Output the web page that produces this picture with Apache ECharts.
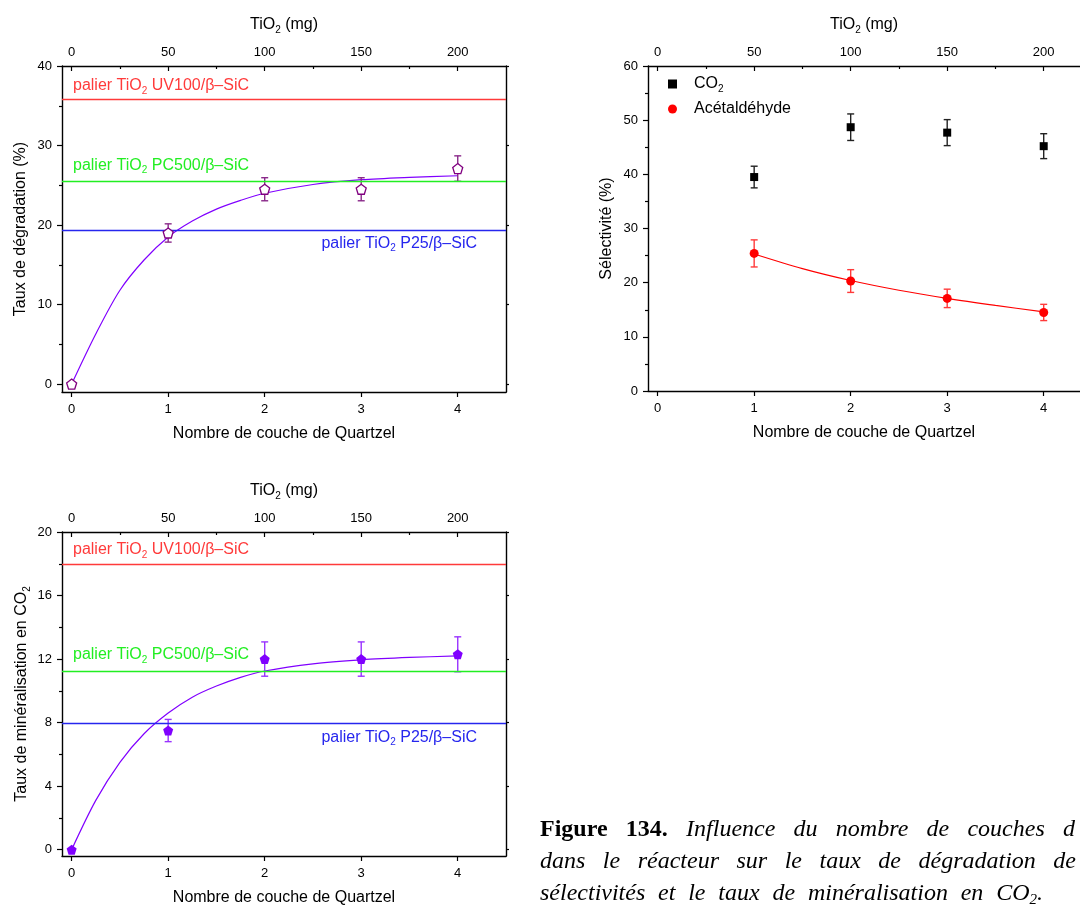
<!DOCTYPE html>
<html><head><meta charset="utf-8">
<script src="https://cdn.jsdelivr.net/npm/echarts@6/dist/echarts.min.js"></script>
<style>html,body{margin:0;padding:0;background:#fff}#c{width:1080px;height:907px}</style>
</head><body><div id="c"></div><script>
// ---------- data ----------
const layerTicks = [0, 1, 2, 3, 4];
const tio2Ticks = [0, 50, 100, 150, 200];
const tio2Minor = [25, 75, 125, 175];

// chart 1 : Taux de dégradation
const degX = [0, 1, 2, 3, 4];
const degValues = [0, 19.0, 24.5, 24.5, 27.1];
const degErrors = [0, 1.15, 1.45, 1.45, 1.6];
const degFitX = [0, 0.25, 0.5, 0.75, 1, 1.25, 1.5, 1.75, 2, 2.5, 3, 3.5, 4];
const degFitY = [0, 6.3, 11.8, 15.6, 18.5, 20.5, 22.0, 23.1, 24.0, 25.1, 25.7, 26.0, 26.2];
const degPaliers = [35.85, 25.5, 19.35];
const degTicks = [0, 10, 20, 30, 40];
const degMinor = [5, 15, 25, 35];

// chart 2 : Sélectivité
const selX = [1, 2, 3, 4];
const selCO2 = [39.5, 48.7, 47.7, 45.2];
const selCO2Err = [2.0, 2.45, 2.4, 2.3];
const selAce = [25.4, 20.3, 17.1, 14.5];
const selAceErr = [2.5, 2.1, 1.7, 1.5];
const aceFitX = [1, 1.5, 2, 2.5, 3, 3.5, 4];
const aceFitY = [25.3, 22.6, 20.4, 18.6, 17.1, 15.8, 14.6];
const selTicks = [0, 10, 20, 30, 40, 50, 60];
const selMinor = [5, 15, 25, 35, 45, 55];

// chart 3 : Taux de minéralisation
const minX = [0, 1, 2, 3, 4];
const minValues = [0, 7.5, 12.0, 12.0, 12.3];
const minErrors = [0, 0.7, 1.08, 1.08, 1.1];
const minFitX = [0, 0.25, 0.5, 0.75, 1, 1.25, 1.5, 1.75, 2, 2.5, 3, 3.5, 4];
const minFitY = [0, 3.1, 5.5, 7.3, 8.6, 9.6, 10.3, 10.85, 11.25, 11.7, 11.95, 12.1, 12.2];
const minPaliers = [18.0, 11.25, 7.93];
const minTicks = [0, 4, 8, 12, 16, 20];
const minMinor = [2, 6, 10, 14, 18];

const paliersNames = ['palier TiO_2 UV100/β–SiC', 'palier TiO_2 PC500/β–SiC', 'palier TiO_2 P25/β–SiC'];
const paliersColors = ['#ff3a3a', '#22ee22', '#2626ee'];

const captionLines = [
  ['Figure', '134.', 'Influence', 'du', 'nombre', 'de', 'couches', 'd'],
  ['dans', 'le', 'réacteur', 'sur', 'le', 'taux', 'de', 'dégradation', 'de'],
  ['sélectivités', 'et', 'le', 'taux', 'de', 'minéralisation', 'en', 'CO_2.']
];

// ---------- helpers ----------
const FONT = '"Liberation Sans", Arial, sans-serif';
const SERIF = '"Liberation Serif", "Times New Roman", serif';
function rt(str) {
  return str.split(/(_\d)/).filter(s => s).map(s => s[0] === '_' ? '{s|' + s.slice(1) + '}' : '{n|' + s + '}').join('');
}
function richStyles(size, color) {
  return {
    n: { fontSize: size, lineHeight: 20, verticalAlign: 'middle', fontFamily: FONT, color: color },
    s: { fontSize: Math.round(size * 0.62), lineHeight: 6, verticalAlign: 'bottom', fontFamily: FONT, color: color }
  };
}
const zip = (a, b) => a.map((v, i) => [v, b[i]]);
const lineBlack = { color: '#000', width: 1.4 };

// x-range of the plots (chart 2 is cut by the right edge of the page)
const xRanges = [[-0.1, 4.5], [-0.1, 4.376], [-0.1, 4.5]];
const topRanges = [[-5, 225], [-5, 218.8], [-5, 225]];

function makeX(g) {
  return [
    { gridIndex: g, type: 'value', position: 'bottom', min: xRanges[g][0], max: xRanges[g][1],
      axisLine: { onZero: false, lineStyle: lineBlack },
      axisTick: { customValues: layerTicks, length: 5, lineStyle: { color: '#000', width: 1.2 } },
      axisLabel: { customValues: layerTicks, margin: 11, fontSize: 13, color: '#000', fontFamily: FONT },
      splitLine: { show: false },
      name: 'Nombre de couche de Quartzel', nameLocation: 'middle', nameGap: 34,
      nameTextStyle: { fontSize: 16, color: '#000', fontFamily: FONT } },
    { gridIndex: g, type: 'value', position: 'top', min: topRanges[g][0], max: topRanges[g][1],
      axisLine: { onZero: false, lineStyle: lineBlack },
      axisTick: { inside: true, customValues: tio2Ticks, length: 5, lineStyle: { color: '#000', width: 1.2 } },
      axisLabel: { customValues: tio2Ticks, margin: 7, fontSize: 13, color: '#000', fontFamily: FONT },
      splitLine: { show: false },
      name: rt('TiO_2 (mg)'), nameLocation: 'middle', nameGap: 31,
      nameTextStyle: { rich: richStyles(16, '#000') } },
    { gridIndex: g, type: 'value', position: 'top', min: topRanges[g][0], max: topRanges[g][1],
      axisLine: { show: false, onZero: false },
      axisTick: { inside: true, customValues: tio2Minor, length: 3, lineStyle: { color: '#000', width: 1.2 } },
      axisLabel: { show: false }, splitLine: { show: false } }
  ];
}
function makeY(g, min, max, ticks, minor, name, gap, showRight) {
  return [
    { gridIndex: g, type: 'value', position: 'left', min: min, max: max,
      axisLine: { show: true, onZero: false, lineStyle: lineBlack },
      axisTick: { show: true, customValues: ticks, length: 5, lineStyle: { color: '#000', width: 1.2 } },
      axisLabel: { customValues: ticks, margin: 10, fontSize: 13, color: '#000', fontFamily: FONT },
      splitLine: { show: false },
      name: name, nameLocation: 'middle', nameGap: gap,
      nameTextStyle: { fontSize: 16, color: '#000', fontFamily: FONT, rich: richStyles(16, '#000') } },
    { gridIndex: g, type: 'value', position: 'left', min: min, max: max,
      axisLine: { show: false, onZero: false },
      axisTick: { show: true, customValues: minor, length: 3, lineStyle: { color: '#000', width: 1.2 } },
      axisLabel: { show: false }, splitLine: { show: false } },
    { gridIndex: g, type: 'value', position: 'right', min: min, max: max, show: showRight,
      axisLine: { show: true, onZero: false, lineStyle: lineBlack },
      axisTick: { show: true, customValues: ticks, length: 3, lineStyle: { color: '#000', width: 1.2 } },
      axisLabel: { show: false }, splitLine: { show: false } }
  ];
}
function errSeries(g, xs, vals, errs, color) {
  const data = [];
  xs.forEach((x, i) => { if (errs[i] > 0) data.push([x, vals[i] - errs[i], vals[i] + errs[i]]); });
  return {
    type: 'custom', xAxisIndex: 3 * g, yAxisIndex: 3 * g, data: data, silent: true, z: 4,
    renderItem: function (params, api) {
      const lo = api.coord([api.value(0), api.value(1)]);
      const hi = api.coord([api.value(0), api.value(2)]);
      const w = 3.5, st = { stroke: color, lineWidth: 1.4 };
      return { type: 'group', children: [
        { type: 'line', shape: { x1: lo[0], y1: lo[1], x2: hi[0], y2: hi[1] }, style: st },
        { type: 'line', shape: { x1: lo[0] - w, y1: lo[1], x2: lo[0] + w, y2: lo[1] }, style: st },
        { type: 'line', shape: { x1: hi[0] - w, y1: hi[1], x2: hi[0] + w, y2: hi[1] }, style: st }
      ] };
    }
  };
}
function paliersMarkLine(values, labelDist) {
  return {
    symbol: ['none', 'none'], silent: true, animation: false,
    data: values.map((v, i) => ({
      yAxis: v,
      lineStyle: { color: paliersColors[i], width: 1.3, type: 'solid' },
      label: {
        show: true,
        position: i === 2 ? 'insideEndBottom' : 'insideStartTop',
        distance: labelDist[i],
        formatter: rt(paliersNames[i]),
        rich: richStyles(16, paliersColors[i])
      }
    }))
  };
}
const pentagon = 'path://M0,-10L9.51,-3.09L5.88,8.09L-5.88,8.09L-9.51,-3.09Z';
const squareIcon = 'path://M0,0L10,0L10,10L0,10Z';

// ---------- caption layout (justified words) ----------
const CAP = 24;
const mctx = document.createElement('canvas').getContext('2d');
function wordWidth(w, bold) {
  mctx.font = (bold ? 'bold ' : 'italic ') + CAP + 'px ' + SERIF;
  if (w.indexOf('_') >= 0) {
    const parts = w.split(/_(\d)/);
    let tot = mctx.measureText(parts[0]).width + mctx.measureText(parts[2] || '').width;
    mctx.font = 'italic ' + Math.round(CAP * 0.62) + 'px ' + SERIF;
    return tot + mctx.measureText(parts[1]).width;
  }
  return mctx.measureText(w).width;
}
const capLeft = 540;
const capRight = [1075, 1076, 1043];
const capY = [830, 862, 894];
const graphics = [];
captionLines.forEach((words, li) => {
  const bolds = words.map((w, i) => li === 0 && i < 2);
  const widths = words.map((w, i) => wordWidth(w, bolds[i]));
  const total = widths.reduce((a, b) => a + b, 0);
  const gap = (capRight[li] - capLeft - total) / (words.length - 1);
  let x = capLeft;
  words.forEach((w, i) => {
    const fam = SERIF;
    const style = { x: 0, y: 0, fill: '#000', verticalAlign: 'middle', align: 'left',
      fontFamily: fam, fontSize: CAP, fontStyle: bolds[i] ? 'normal' : 'italic', fontWeight: bolds[i] ? 'bold' : 'normal' };
    if (w.indexOf('_') >= 0) {
      const parts = w.split(/_(\d)/);
      style.text = '{i|' + parts[0] + '}{s|' + parts[1] + '}{i|' + parts[2] + '}';
      style.rich = {
        i: { fontFamily: fam, fontSize: CAP, fontStyle: 'italic', lineHeight: 28, verticalAlign: 'middle' },
        s: { fontFamily: fam, fontSize: Math.round(CAP * 0.62), fontStyle: 'italic', lineHeight: 8, verticalAlign: 'bottom' }
      };
    } else {
      style.text = w;
    }
    graphics.push({ type: 'text', x: x, y: capY[li], style: style, silent: true });
    x += widths[i] + gap;
  });
});

// ---------- option ----------
const option = {
  animation: false,
  textStyle: { fontFamily: FONT },
  grid: [
    { left: 62, top: 66, width: 444, height: 326 },
    { left: 648, top: 66, width: 432, height: 325 },
    { left: 62, top: 532, width: 444, height: 326 }
  ],
  xAxis: [].concat(makeX(0), makeX(1), makeX(2)),
  yAxis: [].concat(
    makeY(0, -1, 40, degTicks, degMinor, 'Taux de dégradation (%)', 33, true),
    makeY(1, 0, 60, selTicks, selMinor, 'Sélectivité (%)', 33, false),
    makeY(2, -0.4, 20, minTicks, minMinor, rt('Taux de minéralisation en CO_2'), 30, true)
  ),
  legend: {
    orient: 'vertical', left: 663, top: 71, itemWidth: 33, itemHeight: 9, itemGap: 7,
    data: [{ name: 'CO2', icon: squareIcon }, { name: 'Acétaldéhyde', icon: 'circle' }],
    formatter: n => n === 'CO2' ? rt('CO_2') : rt(n),
    textStyle: { rich: richStyles(16, '#000') },
    selectedMode: false
  },
  graphic: graphics,
  series: [
    // chart 1
    { type: 'line', xAxisIndex: 0, yAxisIndex: 0, data: zip(degFitX, degFitY), smooth: 0.3, showSymbol: false,
      lineStyle: { color: '#8000ff', width: 1.2 }, z: 3, silent: true,
      markLine: paliersMarkLine(degPaliers, [[11, 3], [11, 6], [29, 3]]) },
    errSeries(0, degX, degValues, degErrors, '#8a2a8a'),
    { type: 'scatter', xAxisIndex: 0, yAxisIndex: 0, data: zip(degX, degValues), symbol: pentagon, symbolSize: 10,
      itemStyle: { color: '#ffffff', borderColor: '#800080', borderWidth: 1.3, opacity: 1 }, z: 6, silent: true },
    // chart 2
    { type: 'line', xAxisIndex: 3, yAxisIndex: 3, data: zip(aceFitX, aceFitY), smooth: 0.3, showSymbol: false,
      lineStyle: { color: '#ff0000', width: 1.2 }, z: 3, silent: true },
    errSeries(1, selX, selCO2, selCO2Err, '#222222'),
    errSeries(1, selX, selAce, selAceErr, '#ff3a3a'),
    { name: 'CO2', type: 'scatter', xAxisIndex: 3, yAxisIndex: 3, data: zip(selX, selCO2), symbol: 'rect', symbolSize: 8,
      itemStyle: { color: '#000000', opacity: 1 }, z: 6, silent: true },
    { name: 'Acétaldéhyde', type: 'scatter', xAxisIndex: 3, yAxisIndex: 3, data: zip(selX, selAce), symbol: 'circle', symbolSize: 9,
      itemStyle: { color: '#ff0000', opacity: 1 }, z: 6, silent: true },
    // chart 3
    { type: 'line', xAxisIndex: 6, yAxisIndex: 6, data: zip(minFitX, minFitY), smooth: 0.3, showSymbol: false,
      lineStyle: { color: '#8000ff', width: 1.2 }, z: 3, silent: true,
      markLine: paliersMarkLine(minPaliers, [[11, 4], [11, 6], [29, 4]]) },
    errSeries(2, minX, minValues, minErrors, '#9933ff'),
    { type: 'scatter', xAxisIndex: 6, yAxisIndex: 6, data: zip(minX, minValues), symbol: pentagon, symbolSize: 10,
      itemStyle: { color: '#8000ff', opacity: 1 }, z: 6, silent: true }
  ]
};
const chart = echarts.init(document.getElementById('c'), null, { renderer: 'canvas' });
chart.setOption(option);
</script></body></html>
